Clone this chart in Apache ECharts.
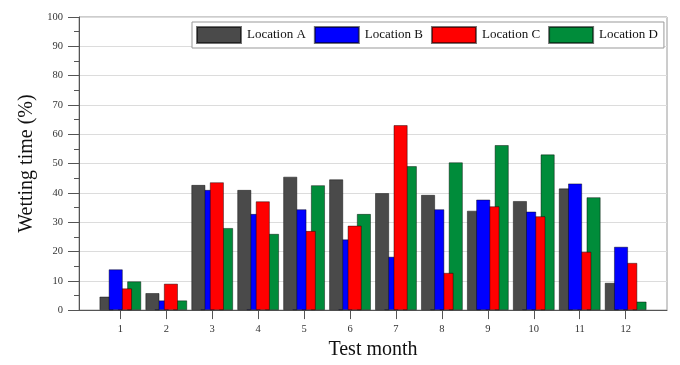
<!DOCTYPE html>
<html>
<head>
<meta charset="utf-8">
<script src="https://cdn.jsdelivr.net/npm/echarts@6/dist/echarts.min.js"></script>
<style>
  html, body { margin: 0; padding: 0; background: #fff; }
  #chart { width: 680px; height: 365px; }
</style>
</head>
<body>
<div id="chart"></div>
<script>
// ---- data ----
var months = [1, 2, 3, 4, 5, 6, 7, 8, 9, 10, 11, 12];
var seriesNames = ['Location A', 'Location B', 'Location C', 'Location D'];
var locA = [4.6, 5.8, 42.7, 41.0, 45.5, 44.6, 39.9, 39.3, 33.9, 37.2, 41.5, 9.3];
var locB = [13.9, 3.3, 41.0, 32.8, 34.4, 24.1, 18.2, 34.4, 37.7, 33.6, 43.2, 21.6];
var locC = [7.4, 9.0, 43.6, 37.1, 27.0, 28.8, 63.1, 12.7, 35.4, 32.0, 19.9, 16.1];
var locD = [9.8, 3.3, 28.0, 26.0, 42.6, 32.8, 49.1, 50.4, 56.3, 53.1, 38.5, 2.9];
var yTicks = [0, 10, 20, 30, 40, 50, 60, 70, 80, 90, 100];

var colors = ['#4a4a4a', '#0000ff', '#ff0000', '#008c3a'];
var FONT = 'Liberation Serif';

function pts(vals, keep) {
  return months.map(function (m, i) {
    return [m, keep(i) ? vals[i] : '-'];
  });
}
var all = function () { return true; };
// overlapping bars: the taller of a neighbouring pair is drawn in front
var aFront = function (i) { return locA[i] > locB[i]; };
var aBack = function (i) { return !(locA[i] > locB[i]); };
var cFront = function (i) { return locC[i] > locB[i]; };
var cBack = function (i) { return !(locC[i] > locB[i]); };

var BW = 14, GAP = '-34%';
var border = { borderColor: 'rgba(0,0,0,0.55)', borderWidth: 0.8 };

function bar(name, colorIdx, data, axis, z) {
  return {
    type: 'bar', name: name, xAxisIndex: axis, yAxisIndex: 0,
    barWidth: BW, barGap: GAP, z: z, data: data,
    itemStyle: Object.assign({ color: colors[colorIdx] }, border),
    emphasis: { disabled: true }
  };
}

var xBase = {
  type: 'value', min: 0.1, max: 12.9, gridIndex: 0
};

var chart = echarts.init(document.getElementById('chart'), null, { renderer: 'canvas' });
chart.setOption({
  backgroundColor: '#fff',
  animation: false,
  textStyle: { fontFamily: FONT },
  grid: {
    left: 79, right: 13, top: 17, bottom: 53.5,
    show: true, borderColor: '#9a9a9a', borderWidth: 1, backgroundColor: 'transparent'
  },
  legend: {
    data: seriesNames,
    left: 192, top: 22,
    padding: [4, 6, 4, 4],
    itemWidth: 44, itemHeight: 16, itemGap: 8,
    borderColor: '#999', borderWidth: 1, borderRadius: 0,
    backgroundColor: '#fff',
    icon: 'rect',
    z: 10,
    textStyle: { fontFamily: FONT, fontSize: 13, color: '#111', padding: [0, 0, 0, 1] }
  },
  xAxis: [
    Object.assign({}, xBase, {
      name: 'Test month', nameLocation: 'middle', nameGap: 28,
      nameTextStyle: { fontFamily: FONT, fontSize: 20, color: '#111' },
      axisLine: { show: true, onZero: false, lineStyle: { color: '#555', width: 1 } },
      axisTick: { show: true, inside: false, length: 9, customValues: months, lineStyle: { color: '#555' } },
      axisLabel: { show: true, margin: 14, customValues: months, fontFamily: FONT, fontSize: 10.5, color: '#333' },
      splitLine: { show: false }
    }),
    Object.assign({}, xBase, { show: false, splitLine: { show: false } })
  ],
  yAxis: [{
    type: 'value', min: 0, max: 100, interval: 10,
    name: 'Wetting time (%)', nameLocation: 'middle', nameGap: 40,
    nameTextStyle: { fontFamily: FONT, fontSize: 20, color: '#111' },
    axisLine: { show: true, lineStyle: { color: '#555', width: 1 } },
    axisTick: { show: true, inside: false, length: 11, lineStyle: { color: '#555' } },
    minorTick: { show: true, splitNumber: 2, length: 5, lineStyle: { color: '#555' } },
    axisLabel: {
      margin: 16, fontFamily: FONT, fontSize: 10.5, color: '#333',
      formatter: function (v) { return yTicks.indexOf(v) >= 0 ? String(v) : ''; }
    },
    splitLine: { show: true, lineStyle: { color: '#dcdcdc', width: 1 } }
  }],
  series: [
    bar(seriesNames[0], 0, pts(locA, aBack), 0, 3),
    bar(seriesNames[1], 1, pts(locB, all), 0, 4),
    bar(seriesNames[2], 2, pts(locC, cBack), 0, 3),
    bar(seriesNames[3], 3, pts(locD, all), 0, 2),
    bar(seriesNames[0], 0, pts(locA, aFront), 1, 5),
    bar('_slotB', 1, [], 1, 1),
    bar(seriesNames[2], 2, pts(locC, cFront), 1, 5),
    bar('_slotD', 3, [], 1, 1)
  ]
});
</script>
</body>
</html>
